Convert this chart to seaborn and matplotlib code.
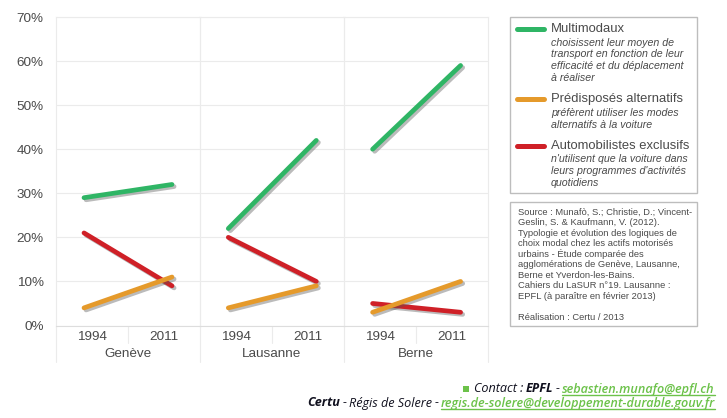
import pandas as pd
import seaborn as sns
from matplotlib import pyplot as plt
from matplotlib import patheffects as pe
from matplotlib.lines import Line2D
from matplotlib.patches import Rectangle

cities = ["Genève", "Lausanne", "Berne"]
years = ["1994", "2011"]
y_ticks = [0, 10, 20, 30, 40, 50, 60, 70]

multimodaux = [[29, 32], [22, 42], [40, 59]]
alternatifs = [[4, 11], [4, 9], [3, 10]]
automobilistes = [[21, 9], [20, 10], [5, 3]]

GREEN = "#2fb565"
ORANGE = "#e59a2b"
RED = "#cf2027"
TEXT = "#4a4a4a"
GRID = "#ebebeb"

W, H = 727, 418

sns.set_theme(style="white")
plt.rcParams["font.family"] = ["Liberation Sans", "DejaVu Sans"]

rows = []
for i, city in enumerate(cities):
    for j, year in enumerate(years):
        rows.append((city, j, "Multimodaux", multimodaux[i][j]))
        rows.append((city, j, "Automobilistes", automobilistes[i][j]))
        rows.append((city, j, "Alternatifs", alternatifs[i][j]))
df = pd.DataFrame(rows, columns=["city", "year", "profil", "part"])
palette = {"Multimodaux": GREEN, "Automobilistes": RED, "Alternatifs": ORANGE}

fig = plt.figure(figsize=(W / 100, H / 100), dpi=100)


def fx(x):
    return x / W


def fy(y):
    return 1 - y / H


def put(x, y, s, **kw):
    kw.setdefault("va", "center")
    kw.setdefault("color", TEXT)
    return fig.text(fx(x), fy(y), s, **kw)


panel_w = 144.3
for i, city in enumerate(cities):
    left = 55.5 + i * panel_w
    ax = fig.add_axes([fx(left), fy(325.5), panel_w / W, 308.5 / H])
    sns.lineplot(
        data=df[df.city == city],
        x="year",
        y="part",
        hue="profil",
        palette=palette,
        linewidth=3.4,
        legend=False,
        ax=ax,
        solid_capstyle="round",
        path_effects=[
            pe.SimpleLineShadow(offset=(1.5, -1.5), shadow_color="#555555", alpha=0.4),
            pe.Normal(),
        ],
    )
    ax.set_xlim(-0.324, 1.316)
    ax.set_ylim(0, 70)
    ax.set_xlabel("")
    ax.set_ylabel("")
    ax.set_xticks([])
    ax.set_yticks(y_ticks)
    ax.grid(axis="y", color=GRID, linewidth=0.8)
    ax.set_axisbelow(True)
    for side in ax.spines:
        ax.spines[side].set_color(GRID)
        ax.spines[side].set_linewidth(0.8)
    ax.spines["bottom"].set_color("#dddddd")
    ax.patch.set_alpha(0)
    if i == 0:
        ax.set_yticklabels([f"{v}%" for v in y_ticks], fontsize=9.7, color=TEXT)
        ax.tick_params(axis="y", length=0, pad=8.5)
    else:
        ax.tick_params(axis="y", left=False, labelleft=False)

    # separators under the axis
    ax.plot([0, 0], [0, -0.118], transform=ax.transAxes, clip_on=False, color=GRID, lw=0.8)
    ax.plot([0.5, 0.5], [0, -0.058], transform=ax.transAxes, clip_on=False, color=GRID, lw=0.8)
    if i == 2:
        ax.plot([1, 1], [0, -0.118], transform=ax.transAxes, clip_on=False, color=GRID, lw=0.8)
    for pos, year in zip([0.25, 0.75], years):
        ax.text(pos, -0.038, year, transform=ax.transAxes, ha="center", va="center",
                fontsize=9.7, color=TEXT)
    ax.text(0.5, -0.0925, city, transform=ax.transAxes, ha="center", va="center",
            fontsize=9.7, color=TEXT)

# legend box
fig.add_artist(Rectangle((fx(509.5), fy(193)), 187 / W, 176 / H, transform=fig.transFigure,
                         fill=False, edgecolor="#bdbdbd", linewidth=1))
legend_items = [
    (29, GREEN, "Multimodaux", [(43, "choisissent leur moyen de"),
                                (54.5, "transport en fonction de leur"),
                                (66, "efficacité et du déplacement"),
                                (78, "à réaliser")]),
    (99, ORANGE, "Prédisposés alternatifs", [(113, "préfèrent utiliser les modes"),
                                             (124.5, "alternatifs à la voiture")]),
    (146, RED, "Automobilistes exclusifs", [(159, "n'utilisent que la voiture dans"),
                                            (171, "leurs programmes d'activités"),
                                            (183, "quotidiens")]),
]
for y, color, title, lines in legend_items:
    fig.add_artist(Line2D([fx(517), fx(544)], [fy(y), fy(y)], transform=fig.transFigure,
                          color=color, linewidth=3.6, solid_capstyle="round"))
    put(551, y, title, fontsize=9.4)
    for ly, s in lines:
        put(551, ly, s, fontsize=7.7, style="italic")

# source box
fig.add_artist(Rectangle((fx(509.5), fy(325.5)), 187 / W, 124 / H, transform=fig.transFigure,
                         fill=False, edgecolor="#bdbdbd", linewidth=1))
source_lines = [
    "Source : Munafò, S.; Christie, D.; Vincent-",
    "Geslin, S. & Kaufmann, V. (2012).",
    "Typologie et évolution des logiques de",
    "choix modal chez les actifs motorisés",
    "urbains - Étude comparée des",
    "agglomérations de Genève, Lausanne,",
    "Berne et Yverdon-les-Bains.",
    "Cahiers du LaSUR n°19. Lausanne :",
    "EPFL (à paraître en février 2013)",
]
for k, s in enumerate(source_lines):
    put(517.5, 212 + k * 10.55, s, fontsize=6.75)
put(517.5, 317, "Réalisation : Certu / 2013", fontsize=6.75)

# footer, built from the right edge
LINK = "#6cc24a"
INK = "#10101e"
fig.canvas.draw()
renderer = fig.canvas.get_renderer()


def footer(y, parts, right=715):
    x = right
    for s, weight, link in reversed(parts):
        t = put(x, y, s, fontsize=9.1, style="italic", family="Open Sans", weight=weight,
                ha="right", color=LINK if link else INK)
        box = t.get_window_extent(renderer)
        if link:
            fig.add_artist(Line2D([fx(box.x0), fx(box.x1)], [fy(y + 6), fy(y + 6)],
                                  transform=fig.transFigure, color=LINK, linewidth=1))
        x -= box.width + 2.5
    return x


end = footer(389, [("Contact :", "normal", False), ("EPFL", "bold", False), ("-", "normal", False),
                   ("sebastien.munafo@epfl.ch", "semibold", True)])
fig.add_artist(Rectangle((fx(end - 9), fy(392)), 6 / W, 6 / H, transform=fig.transFigure,
                         facecolor=LINK, edgecolor="none"))
footer(403, [("Certu", "bold", False), ("-", "normal", False), ("Régis de Solere", "normal", False),
             ("-", "normal", False), ("regis.de-solere@developpement-durable.gouv.fr", "semibold", True)])

fig.savefig("out.png", dpi=100)
